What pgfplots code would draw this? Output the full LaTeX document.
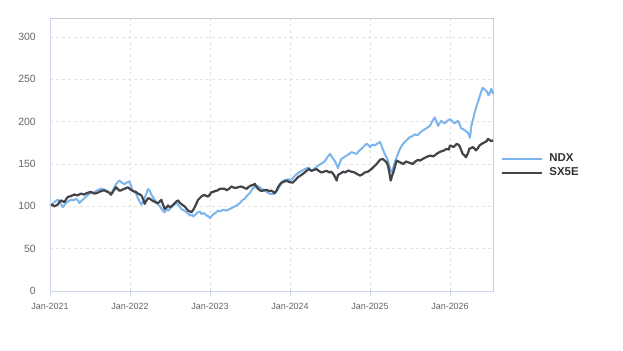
\documentclass[border=0pt]{standalone}
\usepackage{fontspec}
\setmainfont{Liberation Sans}
\usepackage{pgfplots}
\pgfplotsset{compat=1.18}

\definecolor{ndxblue}{HTML}{7CB5EC}
\definecolor{sxdark}{HTML}{434348}
\definecolor{gridgrey}{HTML}{E2E2E2}
\definecolor{axisblue}{HTML}{CCD6EB}
\definecolor{framegrey}{HTML}{CCCCCC}
\definecolor{labelgrey}{HTML}{666666}
\definecolor{legendtext}{HTML}{333333}

% Index levels, rebased to 100 at Jan-2021; x = months since Jan-2021
\pgfplotstableread{
m v
0 101
0.4 103
0.8 106
1.2 108
1.5 105
1.9 99
2.2 102
2.4 104
2.8 106
3.2 108
3.5 107
3.9 109
4.2 107
4.4 104
4.8 107
5.2 110
5.5 112
5.9 115
6.3 116
6.7 117
7.1 119
7.4 120
7.7 121
8.0 120
8.4 119
8.8 117
9.2 115
9.5 120
9.9 126
10.2 129
10.4 130.5
10.8 128
11.2 126
11.5 128
11.9 129.5
12.2 123
12.4 118
12.7 117
12.9 115
13.3 108
13.7 102
14.0 106
14.4 114
14.7 120.5
15.0 118
15.2 114
15.5 110
15.7 108
16.1 103
16.5 100
16.8 96
17.2 93
17.5 97
17.7 95
18.1 98
18.5 101
18.8 103
19.0 104
19.4 100
19.7 97
20.1 95
20.5 93
20.8 91
21.0 89
21.3 90
21.5 88
21.9 91
22.2 93
22.5 94
22.7 91
23.1 92
23.5 89
23.8 88
24.0 86
24.4 90
24.8 92
25.2 95
25.5 94
26.0 96
26.5 95
27.0 97
27.5 99
28.0 101
28.5 104
28.8 107
29.2 109
29.6 113
30.0 116
30.4 121
30.8 123
31.2 124
31.5 122
31.7 121
32.1 119
32.5 117
32.9 115
33.5 114.5
33.9 117
34.2 120
34.6 126
35.0 130.5
35.3 131
35.7 132
36.0 131
36.2 131.5
36.6 135
37.0 138
37.5 141
38.0 143
38.2 144
38.5 145
38.8 146
39.2 142
39.6 144
40.2 148
40.6 150
41.2 153
41.6 158
42.0 162
42.3 158
42.7 154
43.0 149
43.2 145
43.4 150
43.7 156
44.1 158
44.5 160
44.9 162
45.2 164
45.6 163
46.0 162
46.3 165
46.7 168
47.1 171
47.5 174
47.8 172
48.0 170
48.4 173
48.7 172
49.1 174
49.5 176
49.8 170
50.2 162
50.6 156
50.9 148
51.1 142
51.3 140
51.5 146
51.7 152
52.0 158
52.5 168
52.8 172
53.2 176
53.6 179
54.0 182
54.4 183
54.7 185
55.1 184
55.5 187
55.8 189
56.2 191
56.6 193
57.0 195
57.3 200
57.7 205
58.0 200
58.2 195
58.5 199
58.7 201
59.0 199
59.2 198
59.6 201
60.0 203
60.4 200
60.7 198
61.0 200
61.2 201
61.5 196
61.7 192
62.0 191
62.2 190
62.5 188
62.7 187
63.0 181
63.2 195
63.5 204
63.7 211
64.0 219
64.3 226
64.5 231
64.7 236
64.9 240
65.2 238
65.5 236
65.8 231
66.0 235
66.2 239
66.45 233
}\ndx

\pgfplotstableread{
m v
0 101
0.3 102
0.65 100
0.9 101
1.15 102
1.4 105
1.65 107
1.9 106
2.15 105
2.4 108
2.65 111
3.1 112
3.65 114
4.1 113
4.65 115
5.1 114
5.65 116
6.1 117
6.65 115
7.1 116
7.65 118
8.1 119
8.65 117
8.9 116
9.15 113.7
9.5 118
9.9 122.6
10.1 121
10.4 118.5
10.7 119
10.9 120
11.3 121
11.65 122.6
11.9 121
12.15 119.5
12.5 118
12.9 117
13.2 115
13.5 114
13.7 113
14.0 108
14.2 103
14.4 106
14.7 109.6
15.0 109
15.2 107.6
15.5 106
15.7 105.7
16.0 104
16.2 103.8
16.5 106
16.7 107.6
17.0 101
17.2 97
17.5 99
17.7 101
18.0 99
18.2 100
18.5 102
18.7 103.8
19.0 106
19.2 107
19.5 104
19.7 102.6
20.0 101
20.2 100
20.5 97
20.7 95
21.0 94
21.2 93
21.5 96
21.7 99
22.0 104
22.2 107.6
22.5 110
22.7 111.6
23.0 113
23.2 113.5
23.5 112
23.7 111.6
24.0 114
24.2 116.8
24.5 117
24.7 118
25.2 119
25.45 120.7
25.7 120.7
26.2 120.7
26.5 119
26.9 121
27.2 123.5
27.6 122
28.0 122
28.4 123
28.7 123.5
29.1 122
29.5 120.7
29.8 123
30.2 124.8
30.5 125
30.7 126.6
31.0 123
31.2 120.7
31.5 119
31.7 118
32.1 119
32.5 119.5
32.9 118
33.2 118.5
33.5 117
33.7 115.6
34.0 119
34.2 122.6
34.5 126
34.7 128
35.1 129
35.5 130.5
35.8 129
36.0 128.5
36.4 128
36.8 131
37.2 134.5
37.7 137
38.2 140
38.5 142
38.8 144
39.2 142
39.6 143
40.0 144
40.3 142
40.7 140
41.1 141
41.5 142
41.9 140
42.2 141
42.6 137
43.0 130.5
43.2 137
43.6 139
44.0 141
44.3 140
44.7 142.3
45.2 141
45.7 140
46.1 138
46.5 136.4
46.9 138
47.2 140
47.7 141
48.2 144
48.6 147
49.0 150
49.3 153
49.5 155
49.9 156
50.2 154
50.5 152
50.7 148
50.9 140
51.1 130.5
51.3 136
51.5 140
51.7 146
52.0 154
52.5 152
53.0 150
53.4 153
53.7 152
54.1 151
54.4 150
54.8 153
55.2 155
55.5 154
55.9 156
56.4 158
57.0 160
57.5 159
58.0 162
58.4 164
58.7 165
59.1 166
59.5 168
59.8 167
60.0 171.8
60.3 171
60.5 170
60.8 172
61.0 173.8
61.2 173
61.4 171.8
61.7 166
61.9 162
62.2 160
62.4 158
62.7 163
62.9 168
63.2 169
63.4 170
63.7 168
63.9 166
64.2 169
64.4 171.8
64.8 174
65.2 175.7
65.5 177
65.7 179.7
66.0 178
66.2 177
66.45 178
}\sxfive

\begin{document}
\begin{tikzpicture}[x=1bp,y=1bp]
\path[use as bounding box] (0,0) rectangle (623,350);
\begin{axis}[
  at={(50bp,59bp)}, anchor=south west,
  width=443bp, height=273bp, scale only axis,
  xmin=0, xmax=66.45, ymin=0, ymax=322.5,
  xtick={0,12,24,36,48,60},
  xticklabels={Jan-2021,Jan-2022,Jan-2023,Jan-2024,Jan-2025,Jan-2026},
  ytick={0,50,100,150,200,250,300},
  /pgf/number format/assume math mode=true,
  xtick pos=bottom, ytick pos=left,
  tick align=outside, major tick length=5bp,
  xtick style={draw=axisblue, line width=0.8bp},
  ytick style={draw=none},
  grid=major,
  major grid style={draw=gridgrey, line width=0.8bp, dash pattern=on 3bp off 3bp},
  axis line style={draw=framegrey, line width=0.8bp},
  xticklabel style={font=\fontsize{9}{10}\selectfont, text=labelgrey, inner sep=0pt, yshift=-7bp},
  yticklabel style={font=\fontsize{10.5}{12}\selectfont, text=labelgrey, inner sep=0pt, xshift=-9bp},
  legend style={at={(1.018,0.459)}, anchor=west, draw=none, fill=none,
    font=\bfseries\fontsize{11.5}{13}\selectfont, text=legendtext,
    inner sep=0pt, row sep=3bp,
    nodes={inner sep=0pt, text height=8.5bp, text depth=2.5bp}},
  legend cell align=left,
  legend image code/.code={\draw[#1] (0bp,0bp) -- (40bp,0bp);},
  /tikz/every even column/.append style={column sep=6bp},
  /tikz/every odd column/.append style={column sep=6bp},
  clip=false,
]
\addplot[ndxblue, line width=2bp, line join=round] table[x=m, y=v] {\ndx};
\addlegendentry{NDX}
\addplot[sxdark, line width=2.2bp, line join=round] table[x=m, y=v] {\sxfive};
\addlegendentry{SX5E}
\draw[axisblue, line width=0.8bp] (rel axis cs:0,0) -- (rel axis cs:1,0);
\draw[axisblue, line width=0.8bp] (rel axis cs:0,0) -- (rel axis cs:0,1);
\end{axis}
\end{tikzpicture}
\end{document}
